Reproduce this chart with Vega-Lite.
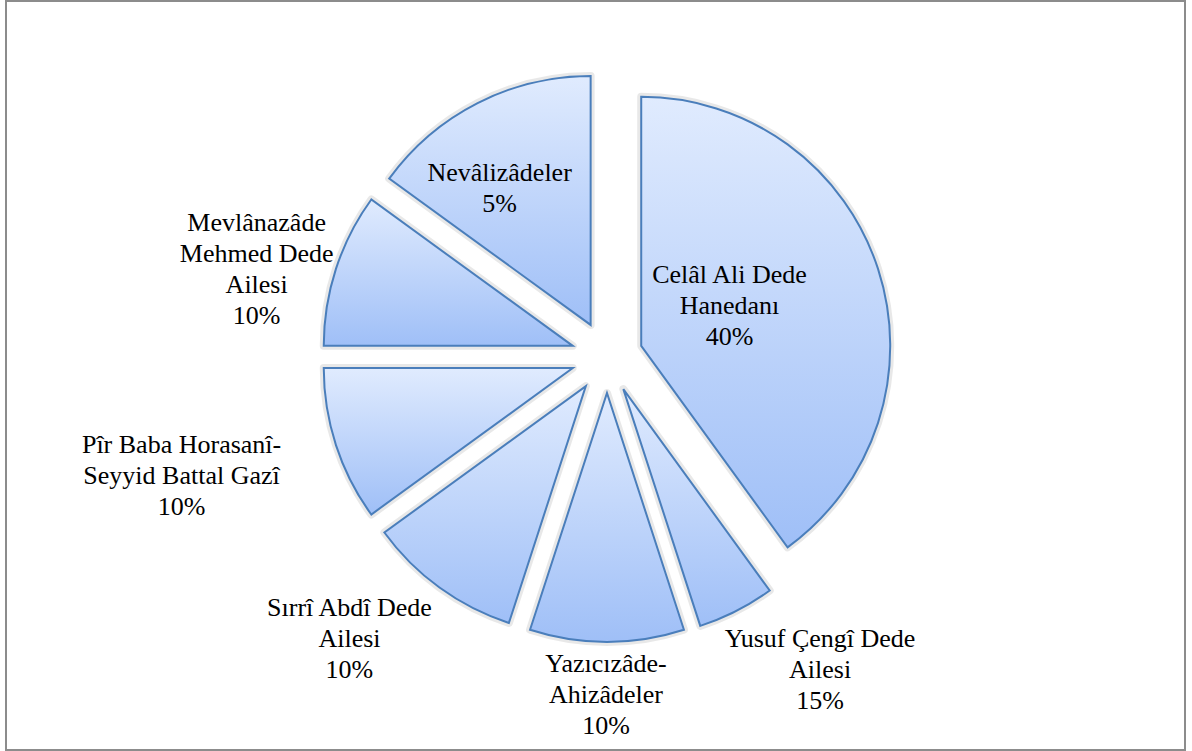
{
  "$schema": "https://vega.github.io/schema/vega-lite/v6.json",
  "width": 1179,
  "height": 749,
  "autosize": "none",
  "padding": {"left": 6, "top": 1, "right": 7, "bottom": 1},
  "background": "white",
  "config": {"view": {"stroke": "#8c8c8c", "strokeWidth": 2}},
  "data": {
    "values": [
      {"k": 1, "name": "Celâl Ali Dede Hanedanı", "share": 40, "label": "Celâl Ali Dede\nHanedanı\n40%"},
      {"k": 2, "name": "Yusuf Çengî Dede Ailesi", "share": 5, "label": "Yusuf Çengî Dede\nAilesi\n15%"},
      {"k": 3, "name": "Yazıcızâde-Ahizâdeler", "share": 10, "label": "Yazıcızâde-\nAhizâdeler\n10%"},
      {"k": 4, "name": "Sırrî Abdî Dede Ailesi", "share": 10, "label": "Sırrî Abdî Dede\nAilesi\n10%"},
      {"k": 5, "name": "Pîr Baba Horasanî-Seyyid Battal Gazî", "share": 10, "label": "Pîr Baba Horasanî-\nSeyyid Battal Gazî\n10%"},
      {"k": 6, "name": "Mevlânazâde Mehmed Dede Ailesi", "share": 10, "label": "Mevlânazâde\nMehmed Dede\nAilesi\n10%"},
      {"k": 7, "name": "Nevâlizâdeler", "share": 15, "label": "Nevâlizâdeler\n5%"}
    ]
  },
  "transform": [
    {"stack": "share", "groupby": [], "sort": [{"field": "k", "order": "ascending"}], "offset": "normalize", "as": ["s0", "s1"]},
    {"calculate": "(datum.s0 + datum.s1) / 2", "as": "mid"},
    {"calculate": "sin(2 * PI * datum.mid)", "as": "ux"},
    {"calculate": "cos(2 * PI * datum.mid)", "as": "uy"}
  ],
  "encoding": {
    "x": {"field": "ux", "type": "quantitative", "axis": null, "scale": {"domain": [-16.694, 16.056], "nice": false, "zero": false}},
    "y": {"field": "uy", "type": "quantitative", "axis": null, "scale": {"domain": [-10.917, 9.889], "nice": false, "zero": false}}
  },
  "layer": [
    {
      "mark": {"type": "arc", "radius": 249, "filled": false, "stroke": "#000000", "strokeOpacity": 0.09, "strokeWidth": 8, "strokeJoin": "round"},
      "encoding": {
        "theta": {"field": "s0", "type": "quantitative", "scale": {"domain": [0, 1]}},
        "theta2": {"field": "s1"}
      }
    },
    {
      "mark": {
        "type": "arc",
        "radius": 249,
        "stroke": "#4a7ebb",
        "strokeWidth": 2,
        "fill": {
          "gradient": "linear", "x1": 0, "y1": 0, "x2": 0, "y2": 1,
          "stops": [{"offset": 0, "color": "#e0ebfe"}, {"offset": 1, "color": "#9fbff7"}]
        },
        "fillOpacity": 1
      },
      "encoding": {
        "theta": {"field": "s0", "type": "quantitative", "scale": {"domain": [0, 1]}},
        "theta2": {"field": "s1"}
      }
    },
    {
      "transform": [{"filter": "datum.k == 1"}],
      "mark": {"type": "text", "font": "Liberation Serif", "fontSize": 26, "lineBreak": "\n", "lineHeight": 31, "align": "center", "baseline": "middle", "color": "#000000", "radius": 97, "dx": -4, "dy": -41},
      "encoding": {"text": {"field": "label"}, "theta": {"field": "mid", "type": "quantitative", "stack": false, "scale": {"domain": [0, 1]}}}
    },
    {
      "transform": [{"filter": "datum.k == 2"}],
      "mark": {"type": "text", "font": "Liberation Serif", "fontSize": 26, "lineBreak": "\n", "lineHeight": 31, "align": "center", "baseline": "middle", "color": "#000000", "radius": 343, "dx": 41, "dy": -56},
      "encoding": {"text": {"field": "label"}, "theta": {"field": "mid", "type": "quantitative", "stack": false, "scale": {"domain": [0, 1]}}}
    },
    {
      "transform": [{"filter": "datum.k == 3"}],
      "mark": {"type": "text", "font": "Liberation Serif", "fontSize": 26, "lineBreak": "\n", "lineHeight": 31, "align": "center", "baseline": "middle", "color": "#000000", "radius": 302, "dx": -1, "dy": -31},
      "encoding": {"text": {"field": "label"}, "theta": {"field": "mid", "type": "quantitative", "stack": false, "scale": {"domain": [0, 1]}}}
    },
    {
      "transform": [{"filter": "datum.k == 4"}],
      "mark": {"type": "text", "font": "Liberation Serif", "fontSize": 26, "lineBreak": "\n", "lineHeight": 31, "align": "center", "baseline": "middle", "color": "#000000", "radius": 346, "dx": -33, "dy": -58},
      "encoding": {"text": {"field": "label"}, "theta": {"field": "mid", "type": "quantitative", "stack": false, "scale": {"domain": [0, 1]}}}
    },
    {
      "transform": [{"filter": "datum.k == 5"}],
      "mark": {"type": "text", "font": "Liberation Serif", "fontSize": 26, "lineBreak": "\n", "lineHeight": 31, "align": "center", "baseline": "middle", "color": "#000000", "radius": 405, "dx": -6, "dy": -48},
      "encoding": {"text": {"field": "label"}, "theta": {"field": "mid", "type": "quantitative", "stack": false, "scale": {"domain": [0, 1]}}}
    },
    {
      "transform": [{"filter": "datum.k == 6"}],
      "mark": {"type": "text", "font": "Liberation Serif", "fontSize": 26, "lineBreak": "\n", "lineHeight": 31, "align": "center", "baseline": "middle", "color": "#000000", "radius": 325, "dx": -7, "dy": -22},
      "encoding": {"text": {"field": "label"}, "theta": {"field": "mid", "type": "quantitative", "stack": false, "scale": {"domain": [0, 1]}}}
    },
    {
      "transform": [{"filter": "datum.k == 7"}],
      "mark": {"type": "text", "font": "Liberation Serif", "fontSize": 26, "lineBreak": "\n", "lineHeight": 31, "align": "center", "baseline": "middle", "color": "#000000", "radius": 163, "dx": -17, "dy": -7},
      "encoding": {"text": {"field": "label"}, "theta": {"field": "mid", "type": "quantitative", "stack": false, "scale": {"domain": [0, 1]}}}
    }
  ]
}
